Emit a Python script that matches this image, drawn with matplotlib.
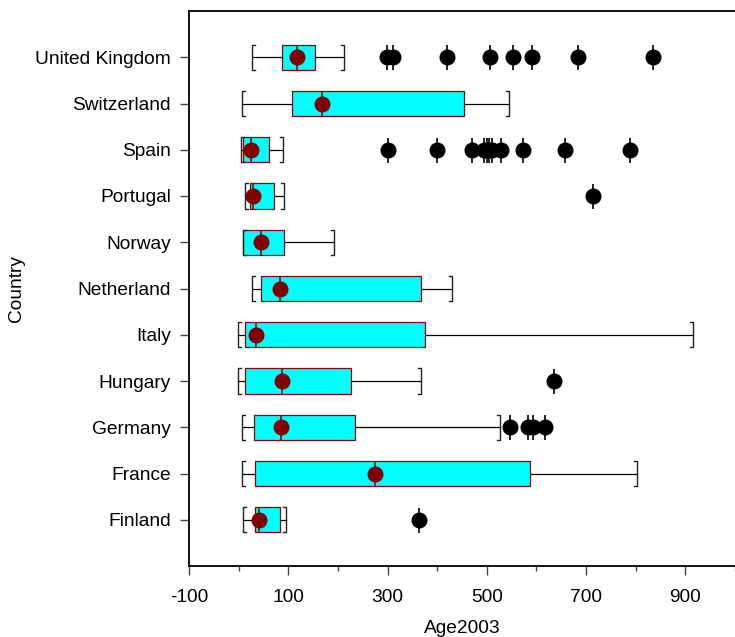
import numpy as np
import matplotlib
matplotlib.use("Agg")
import matplotlib.pyplot as plt

plt.rcParams['font.family'] = ['Liberation Sans', 'DejaVu Sans']
plt.rcParams['axes.unicode_minus'] = False

# bottom to top
countries = ['Finland', 'France', 'Germany', 'Hungary', 'Italy', 'Netherland',
             'Norway', 'Portugal', 'Spain', 'Switzerland', 'United Kingdom']
whisk_lo = [9, 7, 7, -1.4, -1.4, 26, 9, 13.5, 5, 6, 26]
q1 = [33, 32, 30.5, 12, 12, 46, 9, 22, 8.5, 108.5, 87]
q3 = [84, 586.5, 234, 227, 376, 367, 91.5, 72, 62, 455, 154]
whisk_hi = [95, 803, 526, 368, 916, 429, 193, 91.5, 89, 544, 212]
means = [41, 274, 86, 86.5, 34, 84, 45, 29, 25, 167, 117]
outliers = [
    [363],
    [],
    [546, 583, 594, 617],
    [635],
    [],
    [],
    [],
    [713],
    [301, 399, 471, 495, 500, 505, 510, 528, 572, 657, 788],
    [],
    [299, 310, 420, 507, 552, 592, 684, 835],
]

fig = plt.figure(figsize=(7.35, 6.37), dpi=100)
ax = fig.add_axes([189/735, 71/637, 1 - 189/735, (566 - 11)/637])

pos = np.arange(1, len(countries) + 1)
h = 0.275  # half box height
d = 6      # bracket tick length in data units

for i, y in enumerate(pos):
    # whiskers
    ax.plot([whisk_lo[i], q1[i]], [y, y], color='black', lw=0.9, zorder=1)
    ax.plot([q3[i], whisk_hi[i]], [y, y], color='black', lw=0.9, zorder=1)
    # bracket caps
    lo = whisk_lo[i]
    hi = whisk_hi[i]
    ax.plot([lo + d, lo, lo, lo + d], [y - h, y - h, y + h, y + h], color='#222222', lw=1.0, zorder=3)
    ax.plot([hi - d, hi, hi, hi - d], [y - h, y - h, y + h, y + h], color='#222222', lw=1.0, zorder=3)

# boxes
ax.barh(pos, np.array(q3) - np.array(q1), left=q1, height=2 * h,
        color='#00FFFF', edgecolor='#8B0000', linewidth=0.9, zorder=2)

# mean markers with vertical line
ax.plot(means, pos, linestyle='none', marker='|', markersize=18, markeredgewidth=1.2,
        color='#7a1010', zorder=4)
ax.plot(means, pos, linestyle='none', marker='o', markersize=10.5,
        color='#800000', zorder=5)

# outliers
for i, y in enumerate(pos):
    if outliers[i]:
        ys = [y] * len(outliers[i])
        ax.plot(outliers[i], ys, linestyle='none', marker='|', markersize=18,
                markeredgewidth=1.2, color='black', zorder=4)
        ax.plot(outliers[i], ys, linestyle='none', marker='o', markersize=10.5,
                color='black', zorder=5)

ax.set_xlim(-100, 995)
ax.set_ylim(0, 12)
ax.set_xticks(np.arange(-100, 901, 200))
ax.set_xticks(np.arange(0, 1001, 200), minor=True)
ax.set_yticks(pos)
ax.set_yticklabels(countries)

ax.tick_params(axis='both', which='major', direction='out', length=6.5, width=1,
               color='#444444', labelsize=13.8, pad=6.5)
ax.tick_params(axis='x', which='major', pad=10)
ax.tick_params(axis='x', which='minor', direction='out', length=3.4, width=1, color='#444444')

ax.spines['right'].set_visible(False)
for s in ['left', 'bottom', 'top']:
    ax.spines[s].set_linewidth(1.3)

ax.set_xlabel('Age2003', fontsize=13.8, labelpad=10)
ax.set_ylabel('Country', fontsize=13.8, labelpad=7)

fig.savefig('out.png', dpi=100)
